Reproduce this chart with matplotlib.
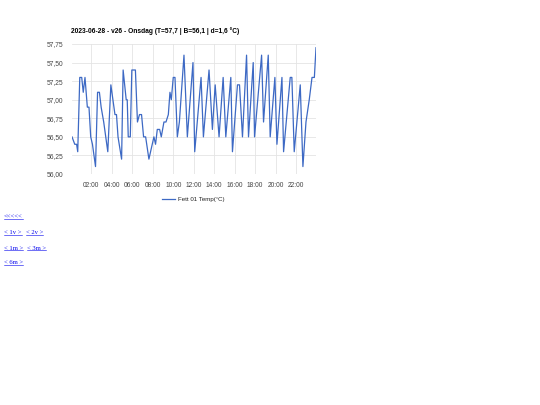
import matplotlib
matplotlib.use('Agg')
import matplotlib.pyplot as plt
from matplotlib.lines import Line2D

# Tid (timmar) och temperatur
timmar = [0.10, 0.37, 0.55, 0.66, 0.86, 1.05, 1.20, 1.37, 1.60, 1.76, 1.93, 2.10,
          2.40, 2.60, 2.78, 2.95, 3.20, 3.60, 3.90, 4.30, 4.45, 4.60, 4.95, 5.10,
          5.40, 5.50, 5.60, 5.80, 5.95, 6.30, 6.50, 6.70, 6.90, 7.10, 7.30, 7.62,
          8.11, 8.27, 8.44, 8.67, 8.83, 9.09, 9.29, 9.52, 9.68, 9.81, 10.00, 10.17,
          10.40, 10.60, 11.05, 11.38, 11.93, 12.10, 12.72, 12.95, 13.50, 13.83, 14.10, 14.48,
          14.88, 15.14, 15.63, 15.79, 16.28, 16.48, 16.77, 17.17, 17.36, 17.82, 17.95, 18.64,
          18.83, 19.29, 19.48, 19.94, 20.14, 20.63, 20.79, 21.44, 21.60, 21.83, 22.42, 22.68,
          22.98, 23.30, 23.57, 23.80, 23.96]
temp = [56.5, 56.4, 56.4, 56.3, 57.3, 57.3, 57.1, 57.3, 56.9, 56.9, 56.5, 56.4,
        56.1, 57.1, 57.1, 56.9, 56.7, 56.3, 57.2, 56.8, 56.8, 56.5, 56.2, 57.4,
        57.0, 57.0, 56.5, 56.5, 57.4, 57.4, 56.7, 56.8, 56.8, 56.5, 56.5, 56.2,
        56.5, 56.4, 56.6, 56.6, 56.5, 56.7, 56.7, 56.8, 57.1, 57.0, 57.3, 57.3,
        56.5, 56.7, 57.6, 56.5, 57.5, 56.3, 57.3, 56.5, 57.4, 56.6, 57.2, 56.5,
        57.3, 56.5, 57.3, 56.3, 57.2, 57.2, 56.5, 57.6, 56.5, 57.5, 56.5, 57.6,
        56.7, 57.6, 56.5, 57.3, 56.4, 57.3, 56.3, 57.3, 57.3, 56.3, 57.2, 56.1,
        56.7, 57.0, 57.3, 57.3, 57.7]

x_ticks = [2, 4, 6, 8, 10, 12, 14, 16, 18, 20, 22]
x_labels = ['02:00', '04:00', '06:00', '08:00', '10:00', '12:00', '14:00',
            '16:00', '18:00', '20:00', '22:00']
y_ticks = [56.00, 56.25, 56.50, 56.75, 57.00, 57.25, 57.50, 57.75]
y_labels = ['56,00', '56,25', '56,50', '56,75', '57,00', '57,25', '57,50', '57,75']

titel = '2023-06-28 - v26 - Onsdag (T=57,7 | B=56,1 | d=1,6 °C)'
serie_namn = 'Fett 01 Temp(°C)'
lankar = [['<<<<<'], ['< 1v >', '< 2v >'], ['< 1m >', '< 3m >'], ['< 6m >']]

plt.rcParams['font.family'] = ['Liberation Sans', 'DejaVu Sans']

W, H = 540, 405
fig = plt.figure(figsize=(W / 100, H / 100), dpi=100)
ax = fig.add_axes([72 / W, 1 - 174 / H, 244 / W, 130 / H])

farg = '#3d69c4'
ax.plot(timmar, temp, color=farg, lw=0.9)
ax.set_xlim(min(timmar), max(timmar))
ax.set_ylim(56.0, 57.75)
ax.set_xticks(x_ticks)
ax.set_xticklabels(x_labels)
ax.set_yticks(y_ticks)
ax.set_yticklabels(y_labels)
ax.tick_params(length=0, labelsize=4.8, colors='#444444', pad=6)
ax.grid(True, color='#e4e4e4', lw=0.6)
ax.set_axisbelow(True)
for s in ax.spines.values():
    s.set_visible(False)

fig.text(71 / W, 1 - 31 / H, titel, fontsize=4.8, fontweight='bold',
         color='#000000', va='center', ha='left')

fig.legend([Line2D([0], [0], color=farg, lw=0.9)], [serie_namn],
           loc='center', bbox_to_anchor=(193 / W, 1 - 199 / H), frameon=False,
           fontsize=4.4, handlelength=2.2, handletextpad=0.4, labelcolor='#222222')

# Länkar under diagrammet
rad_y = [217, 233, 248, 263]
texter = []
for rad, y in zip(lankar, rad_y):
    x = 4
    for lank in rad:
        t = fig.text(x / W, 1 - y / H, lank, fontsize=4.8, color='#0000ee',
                     family='Liberation Serif', va='center', ha='left')
        texter.append(t)
        fig.canvas.draw()
        bb = t.get_window_extent()
        x = bb.x1 + 4

fig.canvas.draw()
for t in texter:
    bb = t.get_window_extent()
    yy = (bb.y0 + 0.3) / H
    fig.add_artist(Line2D([bb.x0 / W, bb.x1 / W], [yy, yy], color='#0000ee', lw=0.4,
                          transform=fig.transFigure))

fig.savefig('out.png', dpi=100)
